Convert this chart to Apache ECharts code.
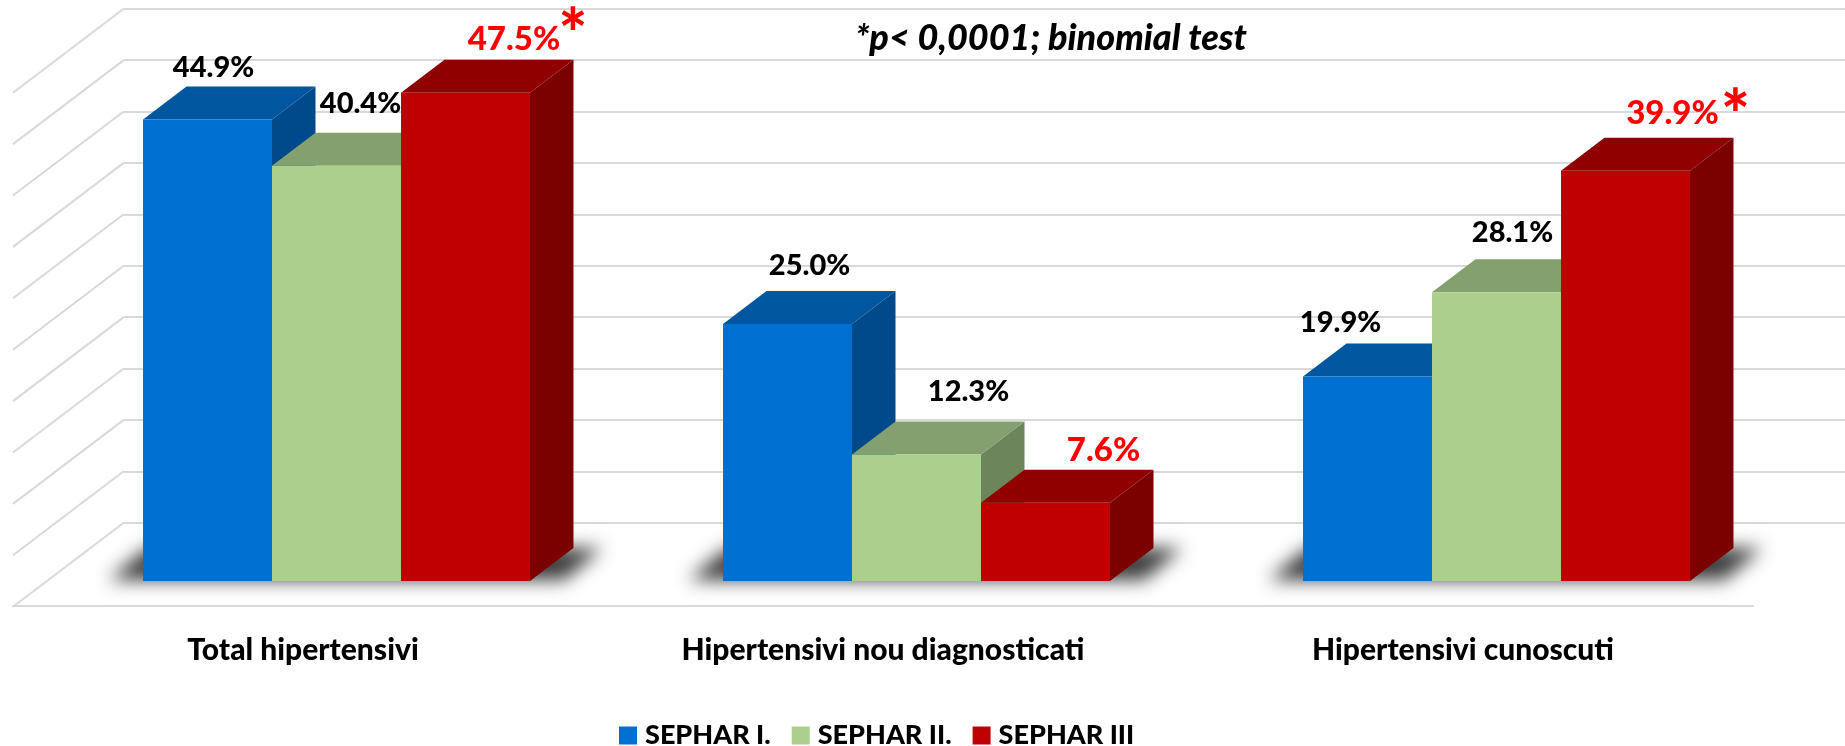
<!DOCTYPE html>
<html>
<head>
<meta charset="utf-8">
<style>html,body{margin:0;padding:0;background:#fff}#c{width:1845px;height:746px}</style>
<script src="https://cdn.jsdelivr.net/npm/echarts@6/dist/echarts.min.js"></script>
</head>
<body>
<div id="c"></div>
<script>
const categories = ['Total hipertensivi', 'Hipertensivi nou diagnosticati', 'Hipertensivi cunoscuti'];
const seriesNames = ['SEPHAR I.', 'SEPHAR II.', 'SEPHAR III'];
const sepharI = [44.9, 25.0, 19.9];
const sepharII = [40.4, 12.3, 28.1];
const sepharIII = [47.5, 7.6, 39.9];
const tickValues = [0, 5, 10, 15, 20, 25, 30, 35, 40, 45, 50];
const significant = [true, false, true];
const titleText = '*p< 0,0001; binomial test';

const FONT = 'Lato, Carlito, "Open Sans", sans-serif';
const DEPTH_X = 43.5, DEPTH_Y = 33;
const BAR_SHARE = 0.2224;
const OFFSCREEN = 4000;
const faces = [
  { front: '#0070d2', top: '#00579f', side: '#004a8b' },
  { front: '#aad08c', top: '#83a06e', side: '#6c8659' },
  { front: '#c00000', top: '#900000', side: '#7b0000' }
];
// hand-placed label offsets from the centre of each bar's front top edge
const labelOffsets = [
  [[6, -52], [22, -58], [-27, -54]],
  [[24, -62], [52, -63], [16, -59]],
  [[48.5, -53], [58, -53], [47, -57]]
];
const starOffsets = [[59, -4], null, [63, 3.5]];

function poly(points, fill, extra) {
  return Object.assign({ type: 'polygon', shape: { points }, style: { fill }, silent: true }, extra || {});
}

function barSeries(si, values) {
  const isRed = si === 2;
  return {
    name: seriesNames[si],
    type: 'custom',
    coordinateSystem: 'cartesian2d',
    xAxisIndex: 2, yAxisIndex: 2,
    z: 10 + si,
    clip: false,
    itemStyle: { color: faces[si].front },
    encode: { x: 0, y: 1 },
    data: values.map((v, i) => [i, v]),
    renderItem(params, api) {
      const cat = api.value(0), val = api.value(1);
      const top = api.coord([cat, val]);
      const base = api.coord([cat, 0]);
      const w = api.size([1, 0])[0] * BAR_SHARE;
      const cx = top[0] + (si - 1) * w;
      const x0 = cx - w / 2, x1 = cx + w / 2;
      const c = faces[si];
      const off = labelOffsets[si][cat];
      const children = [
        poly([[x1, top[1]], [x1 + DEPTH_X, top[1] - DEPTH_Y], [x1 + DEPTH_X, base[1] - DEPTH_Y], [x1, base[1]]], c.side),
        poly([[x0, top[1]], [x0 + DEPTH_X, top[1] - DEPTH_Y], [x1 + DEPTH_X, top[1] - DEPTH_Y], [x1, top[1]]], c.top),
        poly([[x0, top[1]], [x1, top[1]], [x1, base[1]], [x0, base[1]]], c.front),
        { type: 'text', silent: true, style: {
          text: val.toFixed(1) + '%', x: cx + off[0], y: top[1] + off[1],
          align: 'center', verticalAlign: 'middle',
          fontFamily: FONT, fontWeight: 900,
          fontSize: isRed ? 33 : 29, fill: isRed ? '#ff0000' : '#000000'
        } }
      ];
      if (isRed && significant[cat]) {
        const s = starOffsets[cat];
        children.push({ type: 'text', silent: true, style: {
          text: '*', x: cx + off[0] + s[0], y: top[1] + off[1] + s[1],
          align: 'center', verticalAlign: 'middle',
          fontFamily: FONT, fontWeight: 900, fontSize: 68, fill: '#ff0000'
        } });
      }
      return { type: 'group', children };
    }
  };
}

const option = {
  animation: false,
  backgroundColor: '#ffffff',
  title: {
    text: titleText, left: 1046, top: 15, textAlign: 'center',
    textStyle: { fontFamily: FONT, fontSize: 36, fontWeight: 900, fontStyle: 'italic', color: '#000' }
  },
  legend: {
    data: seriesNames.map(name => ({ name, icon: 'rect' })),
    left: 619, top: 722, itemWidth: 18, itemHeight: 18, itemGap: 21, padding: 0,
    textStyle: { fontFamily: FONT, fontSize: 27, fontWeight: 900, color: '#000', padding: [0, 0, 0, 3] },
    selectedMode: false
  },
  grid: [
    { left: 123.7, top: 8.7, width: 1721.3, height: 514 },   // back wall
    { left: 13, top: 91.7, width: 1740, height: 514 },       // front edge of the floor
    { left: 46.5, top: 67, width: 1740, height: 514 }        // front plane of the bars
  ],
  xAxis: [
    { gridIndex: 0, type: 'category', data: categories, show: false },
    { gridIndex: 1, type: 'category', data: categories,
      axisLine: { lineStyle: { color: '#d9d9d9', width: 2 } }, axisTick: { show: false },
      axisLabel: { margin: 30, fontFamily: FONT, fontSize: 30, fontWeight: 900, color: '#000' } },
    { gridIndex: 2, type: 'category', data: categories, show: false }
  ],
  yAxis: [
    { gridIndex: 0, type: 'value', min: 0, max: 50, interval: 5,
      axisLine: { show: false }, axisTick: { show: false }, axisLabel: { show: false },
      splitLine: { lineStyle: { color: '#d9d9d9', width: 2 } } },
    { gridIndex: 1, type: 'value', min: 0, max: 50, interval: 5, show: false, splitLine: { show: false } },
    { gridIndex: 2, type: 'value', min: 0, max: 50, interval: 5, show: false, splitLine: { show: false } }
  ],
  series: [
    {
      name: 'wall', type: 'custom', xAxisIndex: 0, yAxisIndex: 0, z: 1, clip: false, silent: true,
      encode: { y: 0 },
      data: tickValues.map(t => [t]),
      renderItem(params, api) {
        const p = api.coord([0, api.value(0)]);
        const left = params.coordSys.x;
        return { type: 'line', silent: true,
          shape: { x1: left, y1: p[1], x2: left - 110.7, y2: p[1] + 84 },
          style: { stroke: '#d9d9d9', lineWidth: 2 } };
      }
    },
    {
      name: 'shadow', type: 'custom', xAxisIndex: 2, yAxisIndex: 2, z: 2, clip: false, silent: true,
      encode: { x: 0 },
      data: categories.map((c, i) => [i]),
      renderItem(params, api) {
        const p = api.coord([api.value(0), 0]);
        const half = api.size([1, 0])[0] * BAR_SHARE * 1.5;
        const x0 = p[0] - half, x1 = p[0] + half, y = p[1];
        // only the blurred shadow of this shape lands on the floor
        const S = OFFSCREEN;
        return { type: 'polygon', silent: true,
          shape: { points: [[x0 - 34 - S, y - 1], [x0 + 4 - S, y - 33], [x1 + 72 - S, y - 33], [x1 + 34 - S, y - 1]] },
          style: { fill: '#444', shadowBlur: 18, shadowColor: 'rgba(50,50,50,0.95)', shadowOffsetX: S } };
      }
    },
    barSeries(0, sepharI),
    barSeries(1, sepharII),
    barSeries(2, sepharIII)
  ]
};

const chart = echarts.init(document.getElementById('c'), null, { renderer: 'canvas' });
chart.setOption(option);
</script>
</body>
</html>
